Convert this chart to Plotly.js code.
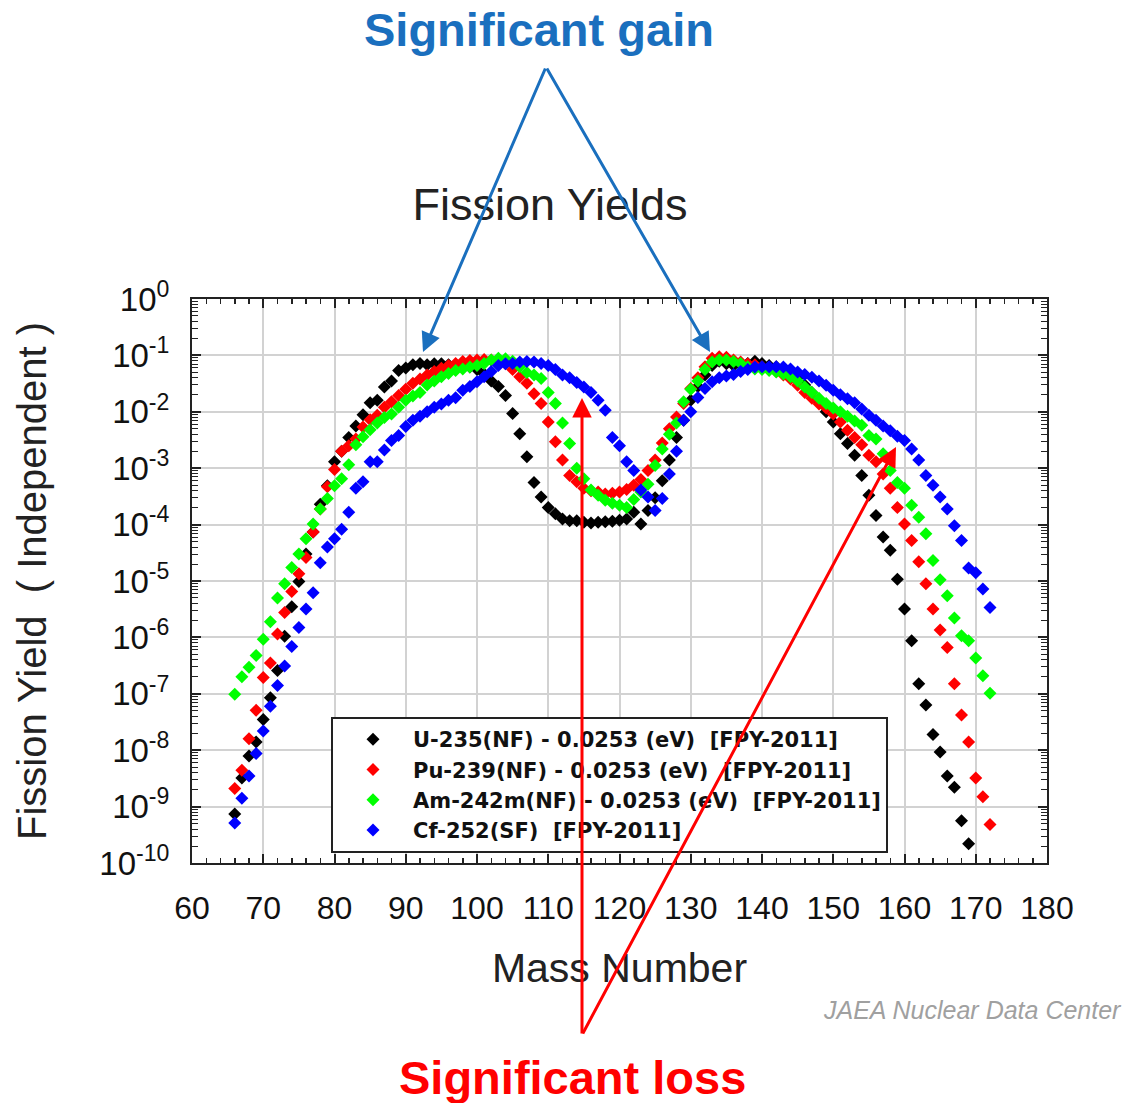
<!DOCTYPE html>
<html>
<head>
<meta charset="utf-8">
<script src="https://cdn.plot.ly/plotly-3.0.1.min.js"></script>
<style>
  html, body { margin: 0; padding: 0; background: #ffffff; }
  #chart { width: 1128px; height: 1103px; }
</style>
</head>
<body>
<div id="chart"></div>
<script>
// Mass numbers (x categories)
const massNumbers = [66,67,68,69,70,71,72,73,74,75,76,77,78,79,80,81,82,83,84,85,
  86,87,88,89,90,91,92,93,94,95,96,97,98,99,100,101,102,103,104,105,
  106,107,108,109,110,111,112,113,114,115,116,117,118,119,120,121,122,123,124,125,
  126,127,128,129,130,131,132,133,134,135,136,137,138,139,140,141,142,143,144,145,
  146,147,148,149,150,151,152,153,154,155,156,157,158,159,160,161,162,163,164,165,
  166,167,168,169,170,171,172];

// U-235(NF) yields, A = 66..169
const u235 = [7.4e-10,3.2e-9,7.9e-9,1.4e-8,3.5e-8,8.5e-8,2.6e-7,1.05e-6,3.5e-6,9.8e-6,
  3.0e-5,7.4e-5,2.3e-4,4.9e-4,1.3e-3,2.0e-3,3.5e-3,5.6e-3,8.9e-3,1.45e-2,
  1.6e-2,2.75e-2,3.5e-2,5.4e-2,6.0e-2,6.8e-2,7.2e-2,6.8e-2,7.1e-2,7.1e-2,
  6.8e-2,6.9e-2,6.5e-2,6.2e-2,5.6e-2,4.7e-2,3.5e-2,2.8e-2,1.95e-2,9.3e-3,
  4.1e-3,1.6e-3,5.6e-4,3.1e-4,2.0e-4,1.55e-4,1.26e-4,1.17e-4,1.17e-4,1.1e-4,
  1.07e-4,1.1e-4,1.12e-4,1.15e-4,1.2e-4,1.26e-4,1.66e-4,1.02e-4,1.78e-4,3.0e-4,
  6.0e-4,1.4e-3,3.5e-3,7.1e-3,1.6e-2,2.8e-2,4.5e-2,6.6e-2,7.9e-2,7.1e-2,
  6.6e-2,6.8e-2,7.2e-2,7.9e-2,7.2e-2,6.6e-2,6.3e-2,5.9e-2,5.2e-2,4.0e-2,
  3.0e-2,2.2e-2,1.5e-2,1.0e-2,6.6e-3,4.1e-3,2.75e-3,1.7e-3,7.4e-4,3.3e-4,
  1.45e-4,6.0e-5,3.5e-5,1.07e-5,3.2e-6,8.7e-7,1.5e-7,6.3e-8,1.9e-8,9.3e-9,
  3.5e-9,2.2e-9,5.6e-10,2.2e-10];

// Pu-239(NF) yields, A = 66..172
const pu239 = [2.1e-9,4.4e-9,1.6e-8,5.1e-8,1.95e-7,3.5e-7,1.15e-6,2.75e-6,6.5e-6,1.35e-5,
  2.6e-5,7.4e-5,1.9e-4,4.7e-4,9.5e-4,2.0e-3,2.5e-3,3.3e-3,5.4e-3,7.2e-3,
  8.7e-3,1.2e-2,1.5e-2,1.95e-2,2.5e-2,3.2e-2,3.8e-2,4.5e-2,5.2e-2,5.9e-2,
  6.6e-2,7.2e-2,7.8e-2,8.1e-2,8.3e-2,8.5e-2,8.3e-2,8.1e-2,7.1e-2,5.6e-2,
  4.2e-2,3.2e-2,2.1e-2,1.4e-2,6.6e-3,2.95e-3,1.4e-3,7.4e-4,5.75e-4,4.4e-4,
  4.0e-4,3.8e-4,3.5e-4,3.6e-4,3.8e-4,4.2e-4,5.0e-4,6.3e-4,9.1e-4,1.4e-3,
  2.8e-3,5.0e-3,8.1e-3,1.4e-2,2.6e-2,4.0e-2,6.3e-2,8.9e-2,9.5e-2,9.3e-2,
  8.3e-2,7.6e-2,7.1e-2,6.8e-2,6.3e-2,5.9e-2,5.2e-2,4.5e-2,3.8e-2,2.95e-2,
  2.2e-2,1.74e-2,1.38e-2,1.17e-2,9.1e-3,6.6e-3,4.7e-3,3.5e-3,2.6e-3,1.7e-3,
  1.3e-3,7.9e-4,4.4e-4,2.0e-4,1.02e-4,5.2e-5,2.2e-5,8.9e-6,3.2e-6,1.35e-6,
  6.6e-7,1.5e-7,4.2e-8,1.4e-8,3.2e-9,1.5e-9,4.8e-10];

// Am-242m(NF) yields, A = 66..172
const am242m = [9.8e-8,2.0e-7,2.95e-7,4.8e-7,9.3e-7,1.9e-6,5.0e-6,8.9e-6,1.74e-5,3.0e-5,
  5.6e-5,1.02e-4,1.9e-4,2.9e-4,4.9e-4,6.5e-4,1.15e-3,2.6e-3,3.6e-3,4.8e-3,
  6.3e-3,7.9e-3,9.1e-3,1.2e-2,1.6e-2,1.9e-2,2.2e-2,3.0e-2,3.5e-2,4.2e-2,
  4.8e-2,5.4e-2,5.75e-2,6.2e-2,6.6e-2,7.2e-2,8.3e-2,8.9e-2,8.7e-2,7.9e-2,
  6.3e-2,5.0e-2,4.5e-2,3.9e-2,2.2e-2,1.4e-2,6.3e-3,2.75e-3,1.0e-3,6.5e-4,
  4.1e-4,3.3e-4,2.7e-4,2.4e-4,2.2e-4,2.0e-4,2.8e-4,3.8e-4,5.2e-4,1.12e-3,
  2.2e-3,4.0e-3,6.3e-3,1.5e-2,2.5e-2,3.5e-2,5.6e-2,7.6e-2,8.3e-2,8.3e-2,
  7.8e-2,7.2e-2,6.3e-2,5.75e-2,5.6e-2,5.4e-2,5.1e-2,4.7e-2,4.2e-2,3.5e-2,
  2.75e-2,2.2e-2,1.74e-2,1.4e-2,1.17e-2,1.0e-2,8.3e-3,6.9e-3,5.75e-3,3.8e-3,
  3.3e-3,1.8e-3,9.1e-4,5.6e-4,4.4e-4,2.2e-4,1.35e-4,6.9e-5,2.3e-5,1.05e-5,
  5.5e-6,2.2e-6,1.07e-6,8.7e-7,4.3e-7,2.1e-7,1.02e-7];

// Cf-252(SF) yields, A = 66..172
const cf252 = [5.1e-10,1.4e-9,3.5e-9,8.7e-9,2.2e-8,6.0e-8,1.4e-7,3.1e-7,6.9e-7,1.5e-6,
  3.2e-6,6.2e-6,2.1e-5,4.0e-5,5.6e-5,8.3e-5,1.66e-4,4.4e-4,5.75e-4,1.3e-3,
  1.3e-3,2.1e-3,3.1e-3,3.8e-3,5.5e-3,7.1e-3,8.3e-3,1.0e-2,1.2e-2,1.38e-2,
  1.6e-2,1.78e-2,2.4e-2,2.8e-2,3.4e-2,4.2e-2,5.2e-2,6.6e-2,7.1e-2,7.2e-2,
  7.6e-2,7.8e-2,7.6e-2,7.2e-2,6.6e-2,5.6e-2,4.5e-2,4.0e-2,3.3e-2,2.75e-2,
  2.2e-2,1.6e-2,1.07e-2,3.5e-3,2.5e-3,1.3e-3,9.1e-4,4.1e-4,3.1e-4,1.78e-4,
  2.9e-4,7.9e-4,2.0e-3,7.1e-3,1.0e-2,1.8e-2,2.6e-2,3.4e-2,4.0e-2,4.3e-2,
  4.6e-2,5.2e-2,5.6e-2,6.2e-2,6.3e-2,6.3e-2,6.3e-2,6.2e-2,5.75e-2,5.1e-2,
  4.6e-2,4.1e-2,3.5e-2,2.95e-2,2.4e-2,2.0e-2,1.7e-2,1.45e-2,1.12e-2,8.7e-3,
  7.1e-3,5.6e-3,4.6e-3,3.7e-3,3.1e-3,2.2e-3,1.4e-3,7.4e-4,5.0e-4,3.1e-4,
  1.9e-4,9.5e-5,5.2e-5,1.7e-5,1.4e-5,7.2e-6,3.4e-6];

const seriesNames = [
  'U-235(NF)\u00a0-\u00a00.0253\u00a0(eV)\u00a0\u00a0[FPY-2011]',
  'Pu-239(NF)\u00a0-\u00a00.0253\u00a0(eV)\u00a0\u00a0[FPY-2011]',
  'Am-242m(NF)\u00a0-\u00a00.0253\u00a0(eV)\u00a0\u00a0[FPY-2011]',
  'Cf-252(SF)\u00a0\u00a0[FPY-2011]'
];
const seriesColors = ['#000000', '#ff0000', '#00ff00', '#0000ff'];
const seriesValues = [u235, pu239, am242m, cf252];

const xTickVals = [60,70,80,90,100,110,120,130,140,150,160,170,180];
const yTickExponents = [0,-1,-2,-3,-4,-5,-6,-7,-8,-9,-10];
const yTickVals = yTickExponents.map(e => Math.pow(10, e));
const yTickText = yTickExponents.map(e => '10<sup>' + e + '</sup>');

const FONT = '"Liberation Sans", Arial, Helvetica, sans-serif';
const LEGEND_FONT = '"DejaVu Sans", "Liberation Sans", Arial, sans-serif';

const traces = seriesValues.map((vals, i) => ({
  type: 'scatter',
  mode: 'markers',
  name: seriesNames[i],
  x: massNumbers.slice(0, vals.length),
  y: vals,
  marker: { symbol: 'diamond', size: 10, color: seriesColors[i], line: { width: 0 } },
  cliponaxis: true
}));

// plot area in pixels: left 192, right 1047, top 299, bottom 863
const L = 192, R = 1047, T = 299, B = 863;
const px = v => (v - L) / (R - L);
const py = v => (B - v) / (B - T);

function arrow(headX, headY, tailX, tailY, color) {
  return {
    xref: 'paper', yref: 'paper',
    x: px(headX), y: py(headY),
    axref: 'pixel', ayref: 'pixel',
    ax: tailX - headX, ay: tailY - headY,
    text: '', showarrow: true,
    arrowhead: 2, arrowsize: 1.3, arrowwidth: 3,
    arrowcolor: color, standoff: 0, startstandoff: 0
  };
}

const layout = {
  width: 1128, height: 1103,
  paper_bgcolor: '#ffffff', plot_bgcolor: '#ffffff',
  margin: { l: L, r: 1128 - R, t: T, b: 1103 - B, pad: 0 },
  font: { family: FONT, color: '#111111' },
  title: {
    text: 'Fission Yields',
    font: { family: FONT, size: 45, color: '#222222' },
    x: 550 / 1128, xanchor: 'center', xref: 'container',
    y: 1 - 204 / 1103, yanchor: 'middle', yref: 'container'
  },
  showlegend: true,
  legend: {
    x: px(331), y: py(717), xanchor: 'left', yanchor: 'top',
    bgcolor: '#ffffff', bordercolor: '#222222', borderwidth: 2,
    font: { family: LEGEND_FONT, size: 21, color: '#111111', weight: 'bold' },
    itemwidth: 70, tracegroupgap: 0
  },
  xaxis: {
    type: 'linear', range: [60, 180], autorange: false,
    tickmode: 'array', tickvals: xTickVals,
    ticks: 'inside', ticklen: 9, tickwidth: 2, tickcolor: '#222222',
    showline: true, linecolor: '#222222', linewidth: 2, mirror: 'allticks',
    showgrid: true, gridcolor: '#d2d2d2', gridwidth: 2,
    zeroline: false,
    tickfont: { family: FONT, size: 32, color: '#111111' },
    ticklabelstandoff: 16,
    minor: { dtick: 2, tick0: 60, ticks: 'inside', ticklen: 5, tickwidth: 1.5, tickcolor: '#222222', showgrid: false },
    title: { text: 'Mass Number', font: { family: FONT, size: 41, color: '#222222' }, standoff: 28 }
  },
  yaxis: {
    type: 'log', range: [-10, 0], autorange: false,
    tickmode: 'array', tickvals: yTickVals, ticktext: yTickText,
    ticks: 'inside', ticklen: 9, tickwidth: 2, tickcolor: '#222222',
    showline: true, linecolor: '#222222', linewidth: 2, mirror: 'allticks',
    showgrid: true, gridcolor: '#d2d2d2', gridwidth: 2,
    zeroline: false,
    tickfont: { family: FONT, size: 33, color: '#111111' },
    ticklabelstandoff: 14,
    minor: { dtick: 'D1', ticks: 'inside', ticklen: 6, tickwidth: 1, tickcolor: '#222222', showgrid: false },
    title: { text: 'Fission Yield\u00a0\u00a0(\u00a0Independent\u00a0)', font: { family: FONT, size: 40, color: '#222222' }, standoff: 40 }
  },
  annotations: [
    {
      xref: 'paper', yref: 'paper', x: px(539), y: py(30),
      text: '<b>Significant gain</b>', showarrow: false,
      font: { family: FONT, size: 47, color: '#1a6fbe' }, xanchor: 'center', yanchor: 'middle'
    },
    {
      xref: 'paper', yref: 'paper', x: px(572), y: py(1077),
      text: '<b>Significant loss</b>', showarrow: false,
      font: { family: FONT, size: 47, color: '#ff0000' }, xanchor: 'center', yanchor: 'middle'
    },
    {
      xref: 'paper', yref: 'paper', x: px(972), y: py(1010),
      text: '<i>JAEA Nuclear Data Center</i>', showarrow: false,
      font: { family: FONT, size: 25, color: '#a0a0a0' }, xanchor: 'center', yanchor: 'middle'
    },
    arrow(423, 352, 546, 67, '#1a6fbe'),
    arrow(710, 352, 546, 67, '#1a6fbe'),
    arrow(582, 398, 582, 1035, '#ff0000'),
    arrow(896, 447, 582, 1035, '#ff0000')
  ]
};

Plotly.newPlot('chart', traces, layout, { staticPlot: true, displayModeBar: false });
</script>
</body>
</html>
